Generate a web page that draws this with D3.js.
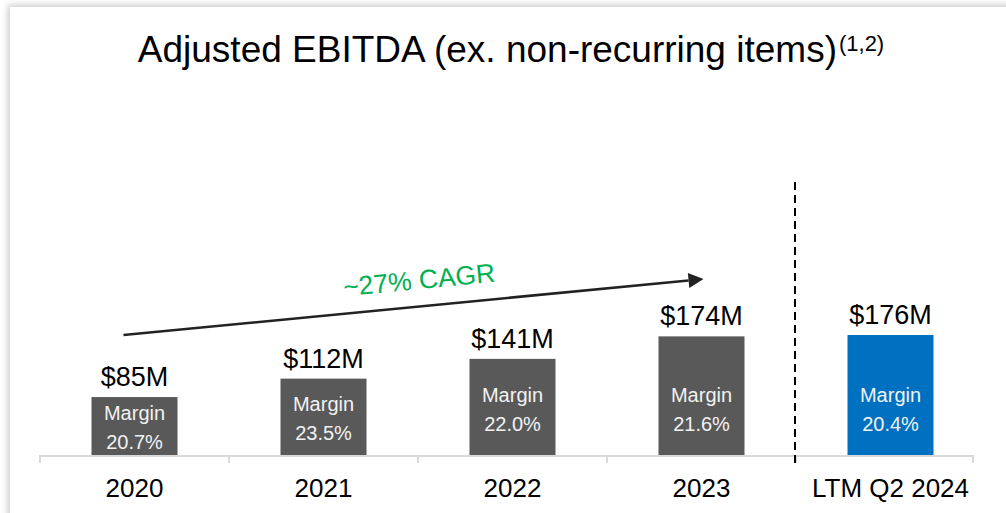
<!DOCTYPE html>
<html>
<head>
<meta charset="utf-8">
<script src="https://cdn.jsdelivr.net/npm/d3@7"></script>
<style>
  html, body { margin: 0; padding: 0; background: #fff; overflow: hidden; }
  #root { position: absolute; left: 10px; top: 7px; width: 1010px; height: 520px;
          box-shadow: -2px -2px 7px rgba(0,0,0,0.22); background: #fff; }
  svg { position: absolute; left: -10px; top: -7px; }
  text { font-family: "Liberation Sans", Arial, sans-serif; }
</style>
</head>
<body>
<div id="root"></div>
<script>
const categories = ["2020", "2021", "2022", "2023", "LTM Q2 2024"]
const ebitda = [85, 112, 141, 174, 176]
const margins = ["20.7%", "23.5%", "22.0%", "21.6%", "20.4%"]
const valueLabels = ["$85M", "$112M", "$141M", "$174M", "$176M"]
const cagrLabel = "~27% CAGR"

const width = 1006
const height = 513
const baseY = 455

const svg = d3.select("#root").append("svg")
  .attr("width", width)
  .attr("height", height)

const data = categories.map((c, i) => ({
  cat: c, value: ebitda[i], margin: margins[i], label: valueLabels[i], ltm: i === 4,
}))

const xScale = d3.scaleBand()
  .domain(categories)
  .range([40, 985])
  .paddingInner(0)

const yScale = d3.scaleLinear()
  .domain([0, 176])
  .range([baseY, 335])

const barW = 86

// title
const title = svg.append("text")
  .attr("x", 511)
  .attr("y", 62)
  .attr("text-anchor", "middle")
  .attr("fill", "#000")
  .style("font-size", "37px")
title.append("tspan").text("Adjusted EBITDA (ex. non-recurring items)")
title.append("tspan")
  .attr("dy", -11)
  .attr("dx", 2)
  .style("font-size", "22px")
  .text("(1,2)")

// bars
const bars = svg.append("g")
bars.selectAll("rect")
  .data(data)
  .join("rect")
  .attr("x", d => xScale(d.cat) + xScale.bandwidth() / 2 - barW / 2)
  .attr("y", d => yScale(d.value))
  .attr("width", barW)
  .attr("height", d => baseY - yScale(d.value))
  .attr("fill", d => d.ltm ? "#0070C0" : "#595959")

// value labels
svg.append("g").selectAll("text")
  .data(data)
  .join("text")
  .attr("x", d => xScale(d.cat) + xScale.bandwidth() / 2)
  .attr("y", d => yScale(d.value) - 11)
  .attr("text-anchor", "middle")
  .attr("fill", "#000")
  .style("font-size", "27px")
  .text(d => d.label)

// margin labels inside bars
const marginG = svg.append("g").selectAll("g")
  .data(data)
  .join("g")
  .attr("transform", d => {
    const mid = Math.max((yScale(d.value) + baseY) / 2 + 1, 409)
    return `translate(${xScale(d.cat) + xScale.bandwidth() / 2},${mid})`
  })
marginG.append("text")
  .attr("y", -7)
  .attr("text-anchor", "middle")
  .attr("fill", "#f2f2f2")
  .style("font-size", "20px")
  .text("Margin")
marginG.append("text")
  .attr("y", 22)
  .attr("text-anchor", "middle")
  .attr("fill", "#f2f2f2")
  .style("font-size", "20px")
  .text(d => d.margin)

// axis line + ticks
const axisG = svg.append("g")
axisG.append("line")
  .attr("x1", 40).attr("x2", 973)
  .attr("y1", baseY + 1).attr("y2", baseY + 1)
  .attr("stroke", "#d9d9d9")
  .attr("stroke-width", 2)
const tickXs = categories.map(c => xScale(c)).concat([973])
axisG.selectAll(".tick")
  .data(tickXs)
  .join("line")
  .attr("class", "tick")
  .attr("x1", d => d).attr("x2", d => d)
  .attr("y1", baseY).attr("y2", baseY + 8)
  .attr("stroke", "#d9d9d9")
  .attr("stroke-width", 2)

// category labels
axisG.selectAll(".cat")
  .data(categories)
  .join("text")
  .attr("class", "cat")
  .attr("x", d => xScale(d) + xScale.bandwidth() / 2)
  .attr("y", 497)
  .attr("text-anchor", "middle")
  .attr("fill", "#000")
  .style("font-size", "26px")
  .text(d => d)

// dashed separator before LTM
const sepX = xScale("LTM Q2 2024") - 1
svg.append("line")
  .attr("x1", sepX).attr("x2", sepX)
  .attr("y1", 182).attr("y2", 463)
  .attr("stroke", "#000")
  .attr("stroke-width", 2)
  .attr("stroke-dasharray", "8,5")

// CAGR arrow
const x0 = xScale("2020") + xScale.bandwidth() / 2 - 11
const x1 = xScale("2023") + xScale.bandwidth() / 2 + 2
const y0 = 335
const y1 = 279
const ang = Math.atan2(y1 - y0, x1 - x0)
const headLen = 15
svg.append("line")
  .attr("x1", x0).attr("y1", y0)
  .attr("x2", x1 - Math.cos(ang) * headLen).attr("y2", y1 - Math.sin(ang) * headLen)
  .attr("stroke", "#222")
  .attr("stroke-width", 2.5)
const hx = x1 - Math.cos(ang) * headLen
const hy = y1 - Math.sin(ang) * headLen
const px = -Math.sin(ang) * 7.5
const py = Math.cos(ang) * 7.5
svg.append("path")
  .attr("d", `M${x1},${y1}L${hx + px},${hy + py}L${hx - px},${hy - py}Z`)
  .attr("fill", "#222")

const deg = ang * 180 / Math.PI
svg.append("text")
  .attr("transform", `translate(420,289) rotate(${deg})`)
  .attr("text-anchor", "middle")
  .attr("fill", "#00B050")
  .style("font-size", "26.5px")
  .text(cagrLabel)
</script>
</body>
</html>
